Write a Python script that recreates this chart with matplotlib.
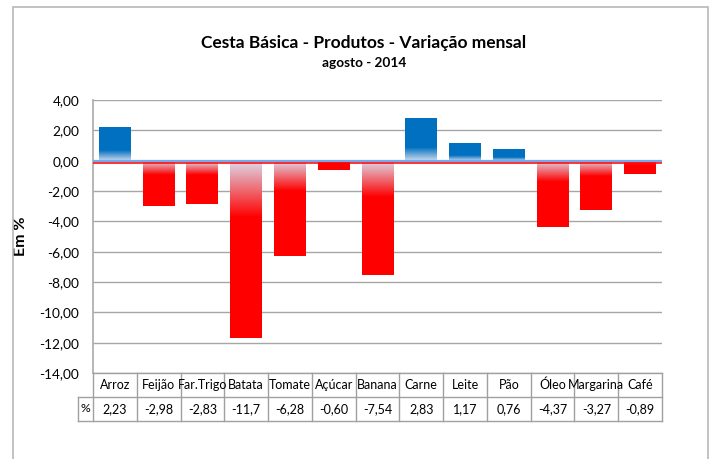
import matplotlib
matplotlib.use("Agg")
import matplotlib.pyplot as plt
import numpy as np
from matplotlib.patches import Rectangle
from matplotlib.colors import to_rgb
from matplotlib import transforms

produtos = ["Arroz", "Feijão", "Far.Trigo", "Batata", "Tomate", "Açúcar", "Banana",
            "Carne", "Leite", "Pão", "Óleo", "Margarina", "Café"]
variacao = [2.23, -2.98, -2.83, -11.7, -6.28, -0.60, -7.54,
            2.83, 1.17, 0.76, -4.37, -3.27, -0.89]
y_ticks = [4, 2, 0, -2, -4, -6, -8, -10, -12, -14]

plt.rcParams["font.family"] = ["Lato", "DejaVu Sans"]

W, H = 715, 459
fig = plt.figure(figsize=(W / 100, H / 100), dpi=100)

# outer chart frame (goes past the bottom of the picture)
fig.patches.append(Rectangle((13 / W, -0.05), (708 - 13) / W, 1.05 - 7 / H,
                             transform=fig.transFigure, fill=False,
                             edgecolor="#b8b8b8", linewidth=1.2))

ax = fig.add_axes([93 / W, 1 - 373 / H, (662 - 93) / W, (373 - 100) / H])
x = np.arange(len(produtos))

bars = ax.bar(x, variacao, width=0.73, color="none", edgecolor="none", zorder=3)

def gradient(light, full, v, n=200):
    t = np.linspace(0, 1, n)
    k = np.clip(t / 0.32, 0, 1)[:, None]
    c = np.array(to_rgb(light)) * (1 - k) + np.array(to_rgb(full)) * k
    img = c[:, None, :]
    # row 0 is at the zero line
    if v > 0:
        return img[::-1]
    return img

for b, v in zip(bars, variacao):
    if v > 0:
        img = gradient("#cfdcee", "#0070c0", v)
    else:
        img = gradient("#dcdcec", "#ff0000", v)
    x0, w = b.get_x(), b.get_width()
    lo, hi = min(0, v), max(0, v)
    im = ax.imshow(img, extent=[x0, x0 + w, lo, hi], aspect="auto",
                   interpolation="bilinear", zorder=3)
    im.set_clip_path(b)

ax.set_xlim(-0.5, len(produtos) - 0.5)
ax.set_ylim(-14, 4)
ax.set_yticks(y_ticks)
ax.set_yticklabels(["{:.2f}".format(t).replace(".", ",") for t in y_ticks])
ax.tick_params(axis="y", length=0, pad=10, labelsize=9.8, colors="black")
ax.set_xticks([])
ax.grid(axis="y", color="#a6a6a6", linewidth=1)
ax.set_axisbelow(True)
for s in ["top", "right", "bottom"]:
    ax.spines[s].set_visible(False)
ax.spines["left"].set_color("#b0b0b0")
ax.spines["left"].set_linewidth(1.3)

# zero line: light blue axis with a thin red line just under it
ax.axhline(0, color="#74a9ee", linewidth=1.6, zorder=4)
red_tr = transforms.offset_copy(ax.transData, fig=fig, y=-2.0, units="dots")
ax.plot([-0.5, len(produtos) - 0.5], [0, 0], color="#ff0000", linewidth=1.1,
        transform=red_tr, zorder=5)

ax.set_ylabel("Em %", fontsize=11.5, fontweight="bold")
ax.yaxis.set_label_coords((28 - 93) / (662 - 93), 0.5)

fig.text(364 / W, 1 - 43 / H, "Cesta Básica - Produtos - Variação mensal",
         ha="center", va="center", fontsize=12.5, fontweight="bold")
fig.text(364 / W, 1 - 63 / H, "agosto - 2014",
         ha="center", va="center", fontsize=9.8, fontweight="bold")

# data table under the plot
tab = fig.add_axes([93 / W, 1 - 421 / H, (662 - 93) / W, 48 / H])
tab.set_xlim(-0.5, len(produtos) - 0.5)
tab.set_ylim(0, 2)
tab.axis("off")
lc = "#a0a0a0"
xl = -0.5 - 15.5 / ((662 - 93) / len(produtos))
n = len(produtos)
tab.plot([-0.5, n - 0.5], [2, 2], color=lc, lw=1, clip_on=False)
tab.plot([xl, n - 0.5], [1, 1], color=lc, lw=1, clip_on=False)
tab.plot([xl, n - 0.5], [0, 0], color=lc, lw=1, clip_on=False)
tab.plot([xl, xl], [0, 1], color=lc, lw=1, clip_on=False)
for k in range(n + 1):
    tab.plot([k - 0.5, k - 0.5], [0, 2], color=lc, lw=1, clip_on=False)
tab.text((xl - 0.5) / 2, 0.5, "%", ha="center", va="center", fontsize=8.8)


def fmt(v):
    s = "{:.1f}".format(v) if abs(v) >= 10 else "{:.2f}".format(v)
    return s.replace(".", ",")


for i, (p, v) in enumerate(zip(produtos, variacao)):
    tab.text(i, 1.5, p, ha="center", va="center", fontsize=9)
    tab.text(i, 0.5, fmt(v), ha="center", va="center", fontsize=9)

fig.savefig("out.png", dpi=100)
